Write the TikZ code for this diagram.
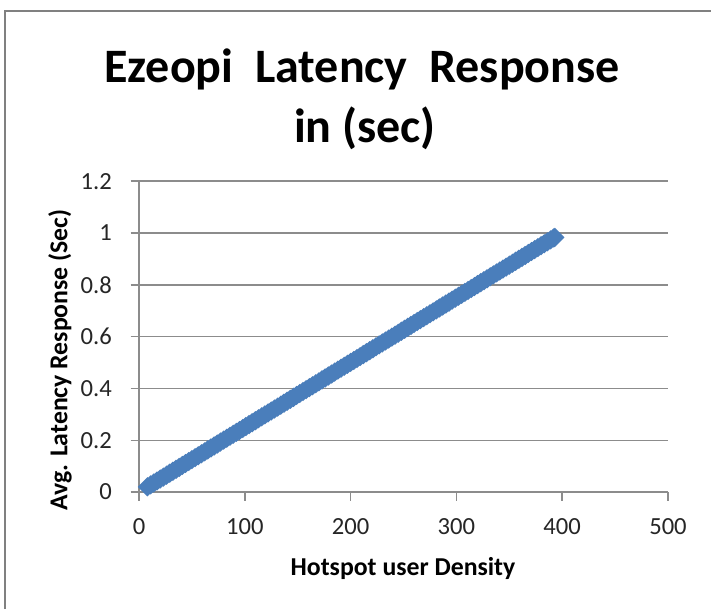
\documentclass[tikz,border=0pt]{standalone}
\usepackage{fontspec}
\setmainfont{Carlito}
\usepackage{xcolor}
\usetikzlibrary{positioning,calc}

\definecolor{seriesblue}{HTML}{4A7EBB}
\definecolor{gridgray}{HTML}{8C8C8C}
\definecolor{framegray}{HTML}{808080}

\tikzset{
    gridline/.style={gridgray, line width=1.2pt},
    ticklabel/.style={font=\fontsize{21}{23}\selectfont, text=black!85, inner sep=0pt},
    axistitle/.style={font=\bfseries\fontsize{22}{24}\selectfont, inner sep=0pt},
    charttitle/.style={font=\bfseries\fontsize{41}{50}\selectfont, inner sep=0pt, anchor=base}
}

\begin{document}
\begin{tikzpicture}[x=0.03cm, y=-0.03cm]
    \useasboundingbox (0,0) rectangle (711,609);
    \fill[white] (0,0) rectangle (711,609);

    % chart frame
    \draw[framegray, line width=1.5pt] (5,609) -- (5,11) -- (711,11);

    % title
    \node[charttitle] (title) at (362,82) {Ezeopi\ \ Latency\ \ Response};
    \node[charttitle] (subtitle) at (365,142) {in (sec)};

    % y tick labels (pixel rows)
    \foreach \v in {0,0.2,0.4,0.6,0.8,1,1.2} {
        \node[ticklabel, anchor=east] at (112,{492-259*\v}) {\v};
    }

    % plot origin
    \coordinate (origin) at (139,492);

    \begin{scope}[shift={(origin)}, x=0.03174cm, y=7.77cm]
        % horizontal grid
        \foreach \v in {0,0.2,...,1.21} {
            \draw[gridline] (-8,\v) -- (500,\v);
        }
        % axes
        \draw[gridline] (0,0) -- (0,1.2);
        \foreach \u in {0,100,...,500} {
            \draw[gridline] (\u,0) -- (\u,-0.035);
            \node[ticklabel, anchor=center] (xtick-\u) at (\u,-0.135) {\u};
        }

        % data series
        \foreach \u in {8,11,...,392} {
            \fill[seriesblue] (\u,0.0025*\u) ++(-0.29cm,0) -- ++(0.29cm,0.29cm) -- ++(0.29cm,-0.29cm) -- ++(-0.29cm,-0.29cm) -- cycle;
        }
        \fill[seriesblue] (393,0.983) ++(-0.29cm,0) -- ++(0.29cm,0.29cm) -- ++(0.29cm,-0.29cm) -- ++(-0.29cm,-0.29cm) -- cycle;
    \end{scope}

    % axis titles
    \node[axistitle] (xtitle) at (403,568) {Hotspot user Density};
    \node[axistitle, rotate=90] (ytitle) at (60,360) {Avg. Latency Response (Sec)};
\end{tikzpicture}
\end{document}
